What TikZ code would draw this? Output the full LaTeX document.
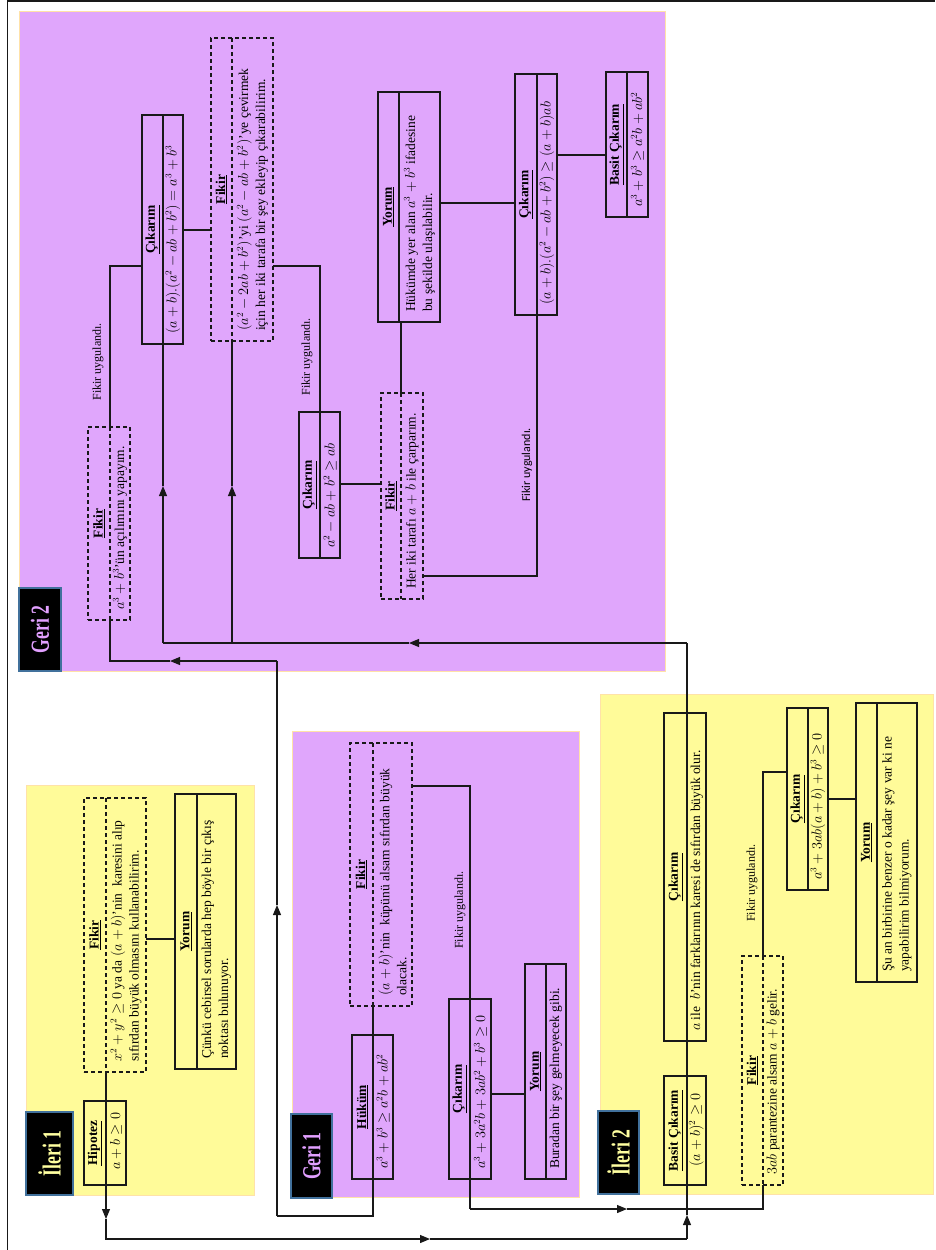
\documentclass[tikz,border=0pt]{standalone}
\usepackage{fontspec}
\setmainfont{Liberation Serif}
\newfontfamily\carlito{Carlito}
\usepackage{graphicx}
\usetikzlibrary{fit,arrows.meta}
\definecolor{purp}{RGB}{224,166,252}
\definecolor{yel}{RGB}{255,251,153}
\definecolor{pborder}{RGB}{255,226,168}
\definecolor{labblue}{RGB}{65,113,156}
\definecolor{purpT}{RGB}{226,160,255}
\definecolor{yelT}{RGB}{255,255,160}
\definecolor{ink}{RGB}{25,25,25}
\tikzset{
 ln/.style={draw=ink, line width=1.1pt},
 arrowend/.style={-{Triangle[length=10pt,width=8pt]}},
 solidbox/.style={draw=ink, line width=1.1pt},
 dashbox/.style={draw=ink, line width=1.1pt, dash pattern=on 4pt off 3pt},
 panelP/.style={fill=purp, draw=pborder, line width=1pt, inner sep=0pt},
 panelY/.style={fill=yel, draw=pborder, line width=1pt, inner sep=0pt},
 labbox/.style={fill=black, draw=labblue, line width=2.2pt, rotate=90, inner sep=0pt, font=\fontsize{26}{28}\selectfont\bfseries},
 ttl/.style={rotate=90, inner sep=0pt, font=\fontsize{13.5}{15}\selectfont\bfseries},
 cnt/.style={rotate=90, inner sep=0pt, align=left, anchor=west, font=\fontsize{13.5}{17}\selectfont},
 applied/.style={rotate=90, inner sep=0pt, font=\fontsize{12}{14}\selectfont},
}
\newcommand\rbox[9]{%
 \node[#1, fit={(#3,#4) (#5,#6)}, inner sep=0pt] (#2) {};
 \draw[#1] (#7,#4) -- (#7,#6);
 \coordinate (#2-dt) at (#7,#4);
 \coordinate (#2-db) at (#7,#6);
 \node[ttl] (#2-t) at ({(#3+#7)/2},{(#4+#6)/2}) {\underline{#8}};
 \node[cnt] (#2-c) at ({(#7+#5)/2},{#6-10}) {#9};
}
\begin{document}
\begin{tikzpicture}[x=1pt,y=-1pt]
\useasboundingbox (0,0) rectangle (935,1250);
\fill[white] (0,0) rectangle (935,1250);
\draw[line width=1.5pt, ink] (7.5,1250) -- (7.5,0.75) -- (935,0.75);
% panels
\node[panelP, fit={(19,11) (665,671)}] (G2) {};
\node[panelY, fit={(26,785) (254,1195)}] (I1) {};
\node[panelP, fit={(292,731) (579,1197)}] (G1) {};
\node[panelY, fit={(600,694) (933,1194)}] (I2) {};
% panel labels
\node[labbox, minimum width=83pt, minimum height=42pt, text=purpT] (G2lab) at (40,629.5) {\scalebox{0.68}[1]{Geri 2}};
\node[labbox, minimum width=83pt, minimum height=47pt, text=yelT] (I1lab) at (49.5,1153.5) {\scalebox{0.68}[1]{İleri 1}};
\node[labbox, minimum width=84pt, minimum height=41pt, text=purpT] (G1lab) at (311.5,1156) {\scalebox{0.68}[1]{Geri 1}};
\node[labbox, minimum width=83pt, minimum height=41pt, text=yelT] (I2lab) at (618.5,1152.5) {\scalebox{0.68}[1]{İleri 2}};
% Geri 2 boxes
\rbox{dashbox}{g2a}{88}{427}{130}{620}{110}{Fikir}{$a^3+b^3$'ün açılımını yapayım.}
\rbox{solidbox}{g2b}{142}{115}{183}{344}{163}{Çıkarım}{$(a+b).(a^2-ab+b^2)=a^3+b^3$}
\rbox{dashbox}{g2c}{211}{38}{273}{341}{232}{Fikir}{$(a^2-2ab+b^2)$'yi $(a^2-ab+b^2)$'ye çevirmek\\için her iki tarafa bir şey ekleyip çıkarabilirim.}
\rbox{solidbox}{g2d}{299}{412}{340}{558}{320}{Çıkarım}{$a^2-ab+b^2\geq ab$}
\rbox{dashbox}{g2e}{381}{393}{423}{599}{401}{Fikir}{Her iki tarafı $a+b$ ile çarparım.}
\rbox{solidbox}{g2f}{378}{92}{440}{322}{399}{Yorum}{Hükümde yer alan $a^3+b^3$ ifadesine\\bu şekilde ulaşılabilir.}
\rbox{solidbox}{g2g}{515}{74}{557}{315}{537}{Çıkarım}{$(a+b).(a^2-ab+b^2)\geq(a+b)ab$}
\rbox{solidbox}{g2h}{606}{72}{648}{217}{627}{Basit Çıkarım}{$a^3+b^3\geq a^2b+ab^2$}
% Geri 1 boxes
\rbox{solidbox}{g1a}{352}{1035}{393}{1179}{373}{Hüküm}{$a^3+b^3\geq a^2b+ab^2$}
\rbox{dashbox}{g1b}{350}{743}{412}{1006}{373}{Fikir}{$(a+b)$'nin\ \ küpünü alsam sıfırdan büyük\\olacak.}
\rbox{solidbox}{g1c}{449}{999}{491}{1179}{470}{Çıkarım}{$a^3+3a^2b+3ab^2+b^3\geq 0$}
\rbox{solidbox}{g1d}{525}{964}{566}{1179}{546}{Yorum}{Buradan bir şey gelmeyecek gibi.}
% Ileri 1 boxes
\rbox{solidbox}{i1a}{84}{1101}{126}{1185}{106}{Hipotez}{\kern5pt$a+b\geq 0$}
\rbox{dashbox}{i1b}{84}{798}{146}{1072}{106}{Fikir}{$x^2+y^2\geq 0$ ya da $(a+b)$'nin\ \ karesini alıp\\sıfırdan büyük olmasını kullanabilirim.}
\rbox{solidbox}{i1c}{175}{794}{236}{1069}{197}{Yorum}{Çünkü cebirsel sorularda hep böyle bir çıkış\\noktası bulunuyor.}
% Ileri 2 boxes
\rbox{solidbox}{i2a}{664}{1076}{706}{1185}{687}{Basit Çıkarım}{\kern8pt$(a+b)^2\geq 0$}
\rbox{solidbox}{i2b}{664}{713}{706}{1041}{687}{Çıkarım}{$a$ ile\ \ $b$'nin farklarının karesi de sıfırdan büyük olur.}
\rbox{dashbox}{i2c}{742}{956}{783}{1185}{763}{Fikir}{$3ab$ parantezine alsam $a+b$ gelir.}
\rbox{solidbox}{i2d}{787}{708}{828}{890}{808}{Çıkarım}{$a^3+3ab(a+b)+b^3\geq 0$}
\rbox{solidbox}{i2e}{856}{703}{917}{982}{877}{Yorum}{Şu an birbirine benzer o kadar şey var ki ne\\yapabilirim bilmiyorum.}
% Geri 2 connectors
\coordinate (d1) at (110,266);
\draw[ln] (g2a-dt) -- (d1) -- (d1 -| g2b.west);
\coordinate (d2) at (183,230);
\draw[ln] (d2) -- (d2 -| g2c.west);
\coordinate (d3) at (273,266); \coordinate (d4) at (320,266);
\draw[ln] (d3) -- (d4) -- (g2d-dt);
\coordinate (d5) at (340,484);
\draw[ln] (d5) -- (d5 -| g2e.west);
\draw[ln] (g2e-dt) -- (g2e-dt |- g2f.south);
\coordinate (d6) at (423,576); \coordinate (d7) at (537,576);
\draw[ln] (d6) -- (d7) -- (g2g-db);
\coordinate (d8) at (440,203);
\draw[ln] (d8) -- (d8 -| g2g.west);
\coordinate (d9) at (557,155);
\draw[ln] (d9) -- (d9 -| g2h.west);
% Geri 1 connectors
\coordinate (e1) at (412,786); \coordinate (e2) at (470,786);
\draw[ln] (e1) -- (e2) -- (g1c-dt);
\coordinate (e3) at (491,1094);
\draw[ln] (e3) -- (e3 -| g1d.west);
\coordinate (c1) at (470,1209); \coordinate (c2) at (627,1209); \coordinate (c3) at (763,1209);
\draw[ln] (g1c-db) -- (c1);
\draw[ln,arrowend] (c1) -- (c2);
\draw[ln] (c2) -- (c3) -- (i2c-db);
% Ileri 1 / Ileri 2 connectors
\coordinate (f1) at (146,939);
\draw[ln] (f1) -- (f1 -| i1c.west);
\coordinate (h1) at (763,772);
\draw[ln] (i2c-dt) -- (h1) -- (h1 -| i2d.west);
\coordinate (h2) at (828,799);
\draw[ln] (h2) -- (h2 -| i2e.west);
% long path A
\coordinate (a1) at (106,1219); \coordinate (a2) at (106,1239); \coordinate (a3) at (430,1239);
\coordinate (a4) at (687,1239); \coordinate (a5) at (687,1215); \coordinate (hub) at (687,643);
\coordinate (a6) at (409,643); \coordinate (hubL) at (163,643); \coordinate (a7) at (163,486);
\coordinate (hubM) at (232,643); \coordinate (a8) at (232,486);
\draw[ln,arrowend] (i1b-db) -- (a1);
\draw[ln,arrowend] (a1) -- (a2) -- (a3);
\draw[ln] (a3) -- (a4);
\draw[ln,arrowend] (a4) -- (a5);
\draw[ln] (a5) -- (hub);
\draw[ln,arrowend] (hub) -- (a6);
\draw[ln] (a6) -- (hubL);
\draw[ln,arrowend] (hubL) -- (a7);
\draw[ln] (a7) -- (g2b-db);
\draw[ln,arrowend] (hubM) -- (a8);
\draw[ln] (a8) -- (g2c-db);
% long path B
\coordinate (b1) at (373,1216); \coordinate (b2) at (277,1216); \coordinate (b3) at (277,905);
\coordinate (b4) at (277,661); \coordinate (b5) at (170,661); \coordinate (b6) at (110,661);
\draw[ln] (g1b-db) -- (b1) -- (b2);
\draw[ln,arrowend] (b2) -- (b3);
\draw[ln] (b3) -- (b4);
\draw[ln,arrowend] (b4) -- (b5);
\draw[ln] (b5) -- (b6) -- (g2a-db);
% labels
\node[applied] (u1) at (98,362) {Fikir uygulandı.};
\node[applied] (u2) at (307,357) {Fikir uygulandı.};
\node[applied, font=\carlito\fontsize{12}{14}\selectfont] (u3) at (527,465) {Fikir uygulandı.};
\node[applied] (u4) at (460,910) {Fikir uygulandı.};
\node[applied] (u5) at (752,883) {Fikir uygulandı.};
\end{tikzpicture}
\end{document}
